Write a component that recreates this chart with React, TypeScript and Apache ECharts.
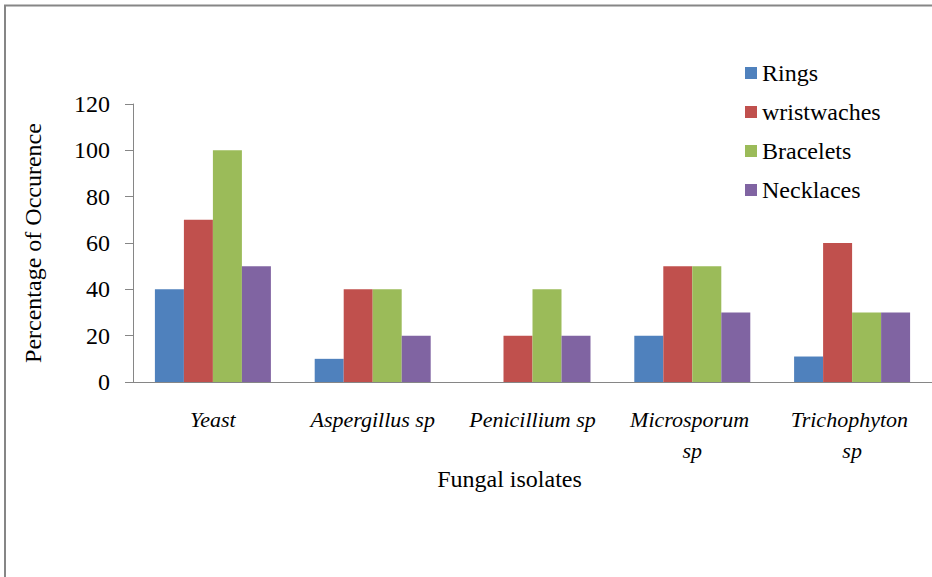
import React, { useEffect, useRef } from "react";
import * as echarts from "echarts";

const categories = ["Yeast", "Aspergillus sp", "Penicillium sp", "Microsporum sp", "Trichophyton sp"];
const seriesNames = ["Rings", "wristwaches", "Bracelets", "Necklaces"];
const rings = [40, 10, 0, 20, 11];
const wristwaches = [70, 40, 20, 50, 60];
const bracelets = [100, 40, 40, 50, 30];
const necklaces = [50, 20, 20, 30, 30];
const colors = ["#4F81BD", "#C0504D", "#9BBB59", "#8064A2"];
const yTicks = { min: 0, max: 120, interval: 20 };

const FONT = "'Liberation Serif', serif";

export default function App() {
  const ref = useRef<HTMLDivElement>(null);
  useEffect(() => {
    if (!ref.current) return;
    const chart = echarts.init(ref.current, null, { renderer: "svg" });
    const values = [rings, wristwaches, bracelets, necklaces];
    chart.setOption({
      animation: false,
      backgroundColor: "#ffffff",
      textStyle: { fontFamily: FONT, color: "#000" },
      grid: { left: 133, top: 104, width: 800, height: 278, containLabel: false },
      legend: {
        orient: "vertical",
        left: 740,
        top: 56,
        itemWidth: 12,
        itemHeight: 12,
        itemGap: 15,
        icon: "rect",
        data: seriesNames,
        textStyle: { fontFamily: FONT, fontSize: 24, lineHeight: 24, color: "#000" },
      },
      xAxis: {
        type: "category",
        data: categories,
        name: "Fungal isolates",
        nameLocation: "middle",
        nameGap: 78,
        nameTextStyle: { fontFamily: FONT, fontSize: 24, color: "#000", padding: [0, 46, 0, 0] },
        axisLine: { show: true, lineStyle: { color: "#868686", width: 1 } },
        axisTick: { show: false },
        axisLabel: {
          interval: 0,
          hideOverlap: false,
          margin: 22,
          fontFamily: FONT,
          fontStyle: "italic",
          fontSize: 22,
          lineHeight: 31,
          color: "#000",
          width: 135,
          overflow: "break",
        },
      },
      yAxis: {
        type: "value",
        min: yTicks.min,
        max: yTicks.max,
        interval: yTicks.interval,
        name: "Percentage of Occurence",
        nameLocation: "middle",
        nameRotate: 90,
        nameGap: 88,
        nameTextStyle: { fontFamily: FONT, fontSize: 24, color: "#000" },
        axisLine: { show: true, lineStyle: { color: "#868686", width: 1 } },
        axisTick: { show: true, inside: false, length: 8, lineStyle: { color: "#868686" } },
        splitLine: { show: false },
        axisLabel: { margin: 23, fontFamily: FONT, fontSize: 24, color: "#000" },
      },
      series: seriesNames.map((name, i) => ({
        name,
        type: "bar",
        data: values[i],
        barWidth: 29,
        barGap: "0%",
        itemStyle: { color: colors[i] },
      })),
      graphic: [
        {
          type: "rect",
          shape: { x: 5, y: 5.5, width: 2000, height: 2000 },
          style: { fill: "none", stroke: "#868686", lineWidth: 2 },
          silent: true,
          z: 100,
        },
      ],
    });
    return () => chart.dispose();
  }, []);
  return (
    <div
      ref={ref}
      style={{ position: "absolute", left: 0, top: 0, width: 932, height: 577, background: "#fff" }}
    />
  );
}
